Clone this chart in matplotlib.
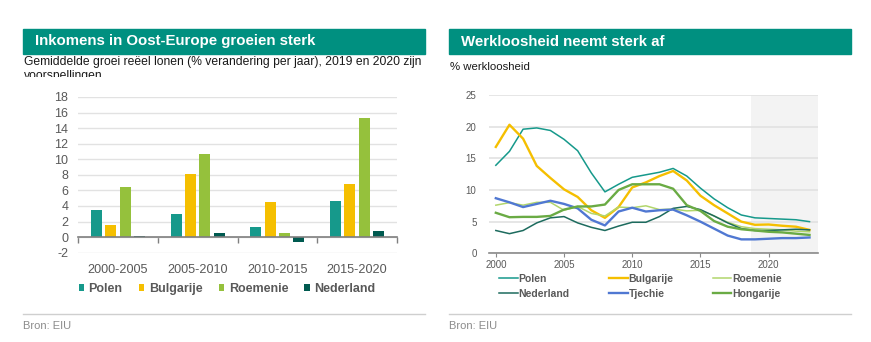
import numpy as np
import matplotlib
matplotlib.use("Agg")
import matplotlib.pyplot as plt
from matplotlib.patches import Rectangle
from matplotlib.lines import Line2D

plt.rcParams['font.family'] = ['Liberation Sans', 'DejaVu Sans']
plt.rcParams['axes.unicode_minus'] = False

# ---- data: left chart (average real wage growth, % per year)
periods = ['2000-2005', '2005-2010', '2010-2015', '2015-2020']
bar_names = ['Polen', 'Bulgarije', 'Roemenie', 'Nederland']
polen_bar = [3.5, 3.0, 1.3, 4.65]
bulgarije_bar = [1.6, 8.1, 4.45, 6.8]
roemenie_bar = [6.45, 10.7, 0.55, 15.3]
nederland_bar = [0.1, 0.55, -0.65, 0.8]

# ---- data: right chart (unemployment, %)
years = list(range(2000, 2024))
polen = [13.9, 16.1, 19.6, 19.8, 19.4, 18.0, 16.2, 12.7, 9.7, 10.9, 12.0, 12.4,
         12.8, 13.4, 12.2, 10.3, 8.6, 7.2, 6.05, 5.6, 5.5, 5.4, 5.3, 5.0]
bulgarije = [16.8, 20.3, 18.1, 13.8, 11.9, 10.1, 8.9, 6.8, 5.6, 7.3, 10.4, 11.2,
             12.2, 13.0, 11.5, 9.1, 7.6, 6.3, 5.0, 4.5, 4.55, 4.35, 4.2, 3.7]
roemenie = [7.6, 8.0, 7.6, 8.05, 8.05, 6.8, 7.4, 6.3, 5.9, 7.3, 7.2, 7.5,
            6.9, 7.0, 6.7, 6.8, 5.9, 4.9, 4.2, 3.9, 3.8, 3.7, 3.5, 3.4]
nederland = [3.6, 3.1, 3.6, 4.8, 5.6, 5.8, 4.8, 4.1, 3.6, 4.3, 4.9, 4.9,
             5.8, 7.1, 7.4, 6.9, 5.9, 4.8, 3.9, 3.6, 3.6, 3.7, 3.8, 3.7]
tjechie = [8.7, 8.05, 7.3, 7.8, 8.3, 7.8, 7.1, 5.3, 4.4, 6.6, 7.2, 6.6,
           6.8, 6.9, 6.0, 5.0, 3.9, 2.8, 2.2, 2.2, 2.3, 2.4, 2.4, 2.5]
hongarije = [6.4, 5.7, 5.75, 5.75, 5.9, 6.9, 7.4, 7.4, 7.7, 10.0, 10.9, 10.9,
             10.9, 10.2, 7.6, 6.7, 5.1, 4.2, 3.8, 3.6, 3.4, 3.3, 3.1, 2.9]
forecast_start = 2018.7

TEAL_HDR = '#009080'
C_POL = '#16998b'
C_BUL = '#f5bf00'
C_ROE = '#95c13c'
C_NED = '#005a50'
C_TJE = '#5078d2'
C_HON = '#6aab44'
C_ROE_LINE = '#b2d66c'
C_NED_LINE = '#1d6b5e'
GREY_TXT = '#595959'
GRID = '#e2e2e2'

fig = plt.figure(figsize=(8.71, 3.42), dpi=100)
W, H = 871, 342


def fx(px):
    return px / W


def fy(py):
    return 1 - py / H


# header bands
for x0, x1, title in [(23, 425, 'Inkomens in Oost-Europe groeien sterk'),
                      (449, 851, 'Werkloosheid neemt sterk af')]:
    fig.patches.append(Rectangle((fx(x0), fy(54)), fx(x1 - x0), (54 - 29) / H,
                                 transform=fig.transFigure, color=TEAL_HDR, zorder=0))
    fig.text(fx(x0 + 12), fy(41.5), title, color='white', fontsize=10.8,
             fontweight='bold', va='center', ha='left')
    # footer line and source
    fig.add_artist(Line2D([fx(x0), fx(x1)], [fy(314), fy(314)], color='#cfcfcf',
                          lw=1.0, transform=fig.transFigure))
    fig.text(fx(x0), fy(326), 'Bron: EIU', color='#8c8c8c', fontsize=8,
             va='center', ha='left')

fig.text(fx(24), fy(64.8), 'Gemiddelde groei reëel lonen (% verandering per jaar), 2019 en 2020 zijn',
         fontsize=8.7, va='baseline', ha='left', color='#1a1a1a')
sub2 = fig.text(fx(24), fy(78.6), 'voorspellingen', fontsize=8.7, va='baseline',
                ha='left', color='#1a1a1a')
clip = Rectangle((0, fy(76.7)), 0.5, fy(66) - fy(76.7), transform=fig.transFigure)
sub2.set_clip_path(clip)
fig.text(fx(450), fy(67), '% werkloosheid', fontsize=8.2, va='center', ha='left',
         color='#1a1a1a')

# ---- left: grouped bars
ax1 = fig.add_axes([fx(78), fy(252.7), fx(397 - 78), (252.7 - 97) / H])
x = np.arange(len(periods))
bw = 0.139
step = 0.18
series = [polen_bar, bulgarije_bar, roemenie_bar, nederland_bar]
colors = [C_POL, C_BUL, C_ROE, C_NED]
for i, (vals, col, name) in enumerate(zip(series, colors, bar_names)):
    ax1.bar(x + (i - 1.5) * step, vals, width=bw, color=col, label=name, zorder=3)
ax1.set_xlim(-0.5, len(periods) - 0.5)
ax1.set_ylim(-2, 18)
ax1.set_yticks(np.arange(-2, 19, 2))
ax1.yaxis.grid(True, color=GRID, lw=1.0, zorder=0)
for s in ['left', 'right', 'top']:
    ax1.spines[s].set_visible(False)
ax1.spines['bottom'].set_position(('data', 0))
ax1.spines['bottom'].set_color('#7f7f7f')
ax1.spines['bottom'].set_linewidth(1.2)
ax1.spines['bottom'].set_zorder(4)
ax1.set_xticks(np.arange(-0.5, len(periods), 1.0))
ax1.set_xticklabels([])
ax1.tick_params(axis='x', which='major', length=4, color='#7f7f7f', width=1.0)
ax1.set_xticks(x, minor=True)
ax1.set_xticklabels(periods, minor=True)
ax1.tick_params(axis='x', which='minor', length=0, pad=19, labelsize=9.1,
                labelcolor=GREY_TXT)
ax1.tick_params(axis='y', length=0, pad=7, labelsize=9, labelcolor=GREY_TXT)
ax1.legend(loc='center', bbox_to_anchor=(fx(227), fy(289)),
           bbox_transform=fig.transFigure, ncol=4, frameon=False,
           handlelength=0.45, handleheight=0.45, handletextpad=0.35,
           columnspacing=1.3, prop={'weight': 'bold', 'size': 9},
           labelcolor=GREY_TXT)

# ---- right: unemployment lines
ax2 = fig.add_axes([fx(489), fy(253.3), fx(817.7 - 489), (253.3 - 95) / H])
ax2.axvspan(forecast_start, 2023.6, color='#f3f3f3', zorder=0, lw=0)
lines = {
    'Polen': (polen, C_POL, 1.1),
    'Nederland': (nederland, C_NED_LINE, 1.1),
    'Bulgarije': (bulgarije, C_BUL, 1.7),
    'Tjechie': (tjechie, C_TJE, 1.7),
    'Roemenie': (roemenie, C_ROE_LINE, 1.1),
    'Hongarije': (hongarije, C_HON, 1.7),
}
draw_order = ['Polen', 'Bulgarije', 'Roemenie', 'Nederland', 'Tjechie', 'Hongarije']
handles = {}
for name in draw_order:
    vals, col, lw = lines[name]
    handles[name], = ax2.plot(years, vals, color=col, lw=lw, label=name, zorder=3)
ax2.set_xlim(1999.5, 2023.6)
ax2.set_ylim(0, 25)
ax2.set_yticks(np.arange(0, 26, 5))
ax2.set_xticks(np.arange(2000, 2021, 5))
ax2.yaxis.grid(True, color=GRID, lw=1.2, zorder=1)
for s in ['left', 'right', 'top']:
    ax2.spines[s].set_visible(False)
ax2.spines['bottom'].set_color('#8a8a8a')
ax2.spines['bottom'].set_linewidth(1.2)
ax2.tick_params(axis='x', length=3, color='#8a8a8a', pad=2, labelsize=7,
                labelcolor=GREY_TXT)
ax2.tick_params(axis='y', length=0, pad=9, labelsize=7, labelcolor=GREY_TXT)
leg_order = ['Polen', 'Nederland', 'Bulgarije', 'Tjechie', 'Roemenie', 'Hongarije']
ax2.legend([handles[n] for n in leg_order], leg_order, loc='upper left',
           bbox_to_anchor=(fx(490), fy(264.5)), bbox_transform=fig.transFigure,
           ncol=3, frameon=False, handlelength=1.75, handletextpad=0.1,
           columnspacing=3.8, labelspacing=0.45,
           prop={'weight': 'bold', 'size': 7.5}, labelcolor=GREY_TXT)

fig.savefig('out.png', dpi=100)
